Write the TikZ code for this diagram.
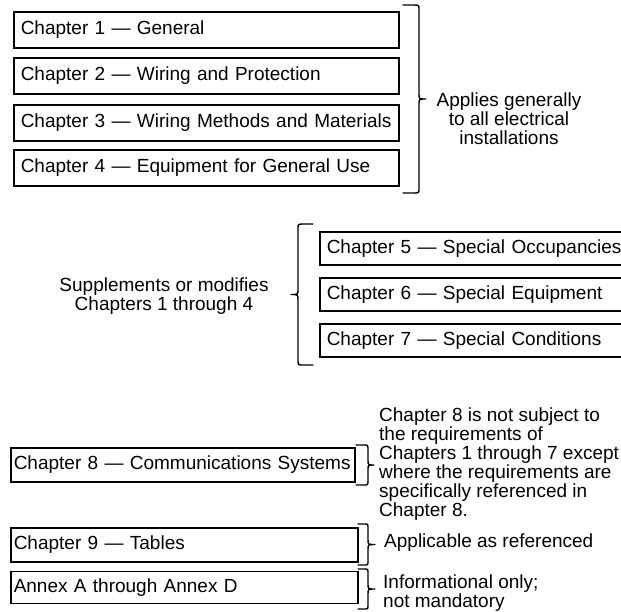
\documentclass[tikz,border=0pt]{standalone}
\usepackage{fontspec}
\setmainfont{Liberation Sans}

% Curly brace built from straight runs and small corners.
% #1 x of the hook ends, #2 x of the stem, #3 x of the tip, #4 top y, #5 bottom y
\newcommand{\drawbrace}[5]{%
  \draw[bracestyle]
    (#1,#4) -- ({#2+(#1-#2)*0.35},#4) .. controls (#2,#4) .. (#2,{#4+5})
    -- (#2,{(#4+#5)/2-5}) .. controls (#2,{(#4+#5)/2}) .. (#3,{(#4+#5)/2})
    .. controls (#2,{(#4+#5)/2}) .. (#2,{(#4+#5)/2+5})
    -- (#2,{#5-5}) .. controls (#2,#5) .. ({#2+(#1-#2)*0.35},#5) -- (#1,#5);}

\begin{document}
\begin{tikzpicture}[x=1pt,y=-1pt,
  every node/.style={font=\fontsize{19}{19}\selectfont, inner sep=0pt},
  chapbox/.style={draw, line width=1.5pt, anchor=west, inner xsep=7pt, align=left},
  note/.style={align=center},
  bracestyle/.style={line width=1.4pt, line join=round, line cap=round}]

\clip (0,0) rectangle (621,611);
\fill[white] (0,0) rectangle (621,611);

% Chapters 1-4
\node[chapbox, text width=371pt, minimum height=36pt] (c1) at (13,30)  {Chapter 1 — General};
\node[chapbox, text width=371pt, minimum height=36pt] (c2) at (13,76)  {Chapter 2 — Wiring and Protection};
\node[chapbox, text width=371pt, minimum height=36pt] (c3) at (13,123) {Chapter 3 — Wiring Methods and Materials};
\node[chapbox, text width=371pt, minimum height=36pt] (c4) at (13,168) {Chapter 4 — Equipment for General Use};
\drawbrace{403}{419}{426}{5}{193}
\node[note] (n1) at (509,119) {Applies generally\\to all electrical\\installations};

% Chapters 5-7
\node[chapbox, text width=306pt, minimum height=33pt] (c5) at (319,248.5) {Chapter 5 — Special Occupancies};
\node[chapbox, text width=306pt, minimum height=33pt] (c6) at (319,294.5) {Chapter 6 — Special Equipment};
\node[chapbox, text width=306pt, minimum height=33pt] (c7) at (319,340.5) {Chapter 7 — Special Conditions};
\drawbrace{313}{298}{291}{224}{365}
\node[note] (n2) at (164,296) {Supplements or modifies\\Chapters 1 through 4};

% Chapter 8, Chapter 9, annexes
\node[chapbox, inner xsep=3pt, text width=338pt, minimum height=34pt] (c8) at (10,465) {Chapter 8 — Communications Systems};
\drawbrace{356}{368}{374}{445}{485}
\node[align=left, anchor=west] (n3) at (379,464) {Chapter 8 is not subject to\\the requirements of\\Chapters 1 through 7 except\\where the requirements are\\specifically referenced in\\Chapter 8.};

\node[chapbox, inner xsep=3pt, text width=341pt, minimum height=34pt] (c9) at (10,545) {Chapter 9 — Tables};
\drawbrace{358}{368}{375}{524}{565}
\node[anchor=west] (n4) at (384,543) {Applicable as referenced};

\node[chapbox, inner xsep=3pt, text width=341pt, minimum height=32pt] (ca) at (10,587.5) {Annex A through Annex D};
\drawbrace{358}{368}{375}{569}{609}
\node[align=left, anchor=west, font=\fontsize{19}{16}\selectfont] (n5) at (383,593) {Informational only;\\not mandatory};
\end{tikzpicture}
\end{document}
